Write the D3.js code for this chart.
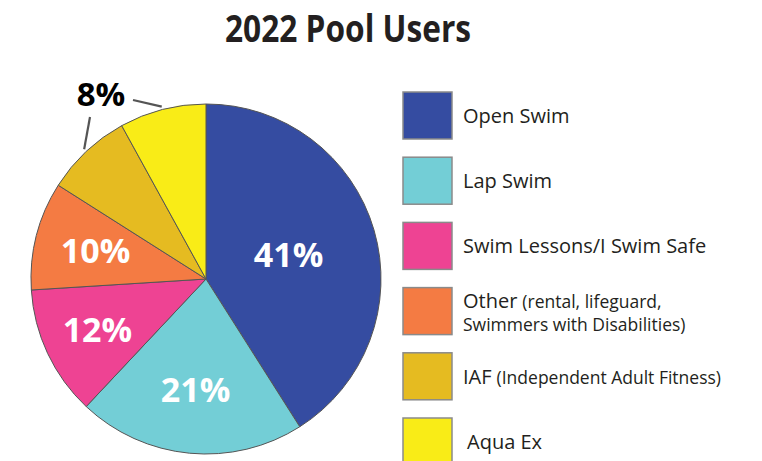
<!DOCTYPE html>
<html>
<head>
<meta charset="utf-8">
<script src="https://cdn.jsdelivr.net/npm/d3@7"></script>
<style>
    body { margin: 0; background: #fff; }
</style>
</head>
<body>
<div id="chart"></div>
<script>
const categories = ["Open Swim", "Lap Swim", "Swim Lessons/I Swim Safe", "Other", "IAF", "Aqua Ex"];
const shares = [41, 21, 12, 10, 8, 8];
const notes = ["", "", "", "(rental, lifeguard,", "(Independent Adult Fitness)", ""];
const noteLine2 = ["", "", "", "Swimmers with Disabilities)", "", ""];
const colors = ["#354ca1", "#73ced6", "#ee4393", "#f47b43", "#e5bb21", "#f9ec17"];

const width = 762;
const height = 461;
const radius = 175;

const svgContainer = d3.select("#chart")
    .append("svg")
    .attr("width", width)
    .attr("height", height)
    .style("font-family", "'Open Sans', sans-serif");

svgContainer.append("text")
    .attr("x", 348)
    .attr("y", 42)
    .attr("text-anchor", "middle")
    .attr("textLength", 246)
    .attr("lengthAdjust", "spacingAndGlyphs")
    .style("font-size", "37px")
    .style("font-weight", "bold")
    .style("fill", "#231f20")
    .text("2022 Pool Users");

const data = categories.map((c, i) => ({ name: c, value: shares[i], color: colors[i] }));

const svg = svgContainer.append("g")
    .attr("transform", "translate(206, 279)");

const pie = d3.pie()
    .value(d => d.value)
    .sort(null);

const arc = d3.arc()
    .innerRadius(0)
    .outerRadius(radius);

const slices = pie(data);

svg.selectAll("path")
    .data(slices)
    .enter()
    .append("path")
    .attr("d", arc)
    .attr("fill", d => d.data.color)
    .attr("stroke", "#555")
    .style("stroke-width", "1px");

// label distance from centre, per slice (the big slice has its label nearer the middle)
const labelRadius = [86, 111, 120, 114];

function pointAt(d, r) {
    const a = (d.startAngle + d.endAngle) / 2;
    return [r * Math.sin(a), -r * Math.cos(a)];
}

svg.selectAll("text.slice-label")
    .data(slices.filter(d => d.data.value >= 10))
    .enter()
    .append("text")
    .attr("class", "slice-label")
    .attr("transform", (d, i) => `translate(${pointAt(d, labelRadius[i])})`)
    .attr("text-anchor", "middle")
    .attr("dy", "0.36em")
    .style("font-size", "34px")
    .style("font-weight", "bold")
    .style("fill", "#fff")
    .text(d => d.data.value + "%");

// shared outside label for the two 8% slices
const small = slices.filter(d => d.data.value < 10);
const outLabel = [-105, -185];
svg.append("text")
    .attr("x", outLabel[0])
    .attr("y", outLabel[1])
    .attr("dy", "0.36em")
    .attr("text-anchor", "middle")
    .style("font-size", "33px")
    .style("font-weight", "bold")
    .style("fill", "#000")
    .text(small[0].data.value + "%");

const leaderStarts = [[-116, -162], [-73, -179]];
svg.selectAll("line.leader")
    .data(small)
    .enter()
    .append("line")
    .attr("class", "leader")
    .attr("x1", (d, i) => leaderStarts[i][0])
    .attr("y1", (d, i) => leaderStarts[i][1])
    .attr("x2", d => pointAt(d, radius + 3)[0])
    .attr("y2", d => pointAt(d, radius + 3)[1])
    .attr("stroke", "#555")
    .attr("stroke-width", 2.2);

// legend
const legendY = d3.scaleLinear().domain([0, 5]).range([92, 418]);

const legendItems = svgContainer.append("g")
    .selectAll("g")
    .data(data)
    .enter()
    .append("g")
    .attr("transform", (d, i) => `translate(403, ${legendY(i)})`);

legendItems.append("rect")
    .attr("width", 49)
    .attr("height", 47)
    .attr("fill", d => d.color)
    .attr("stroke", "#8a8a8a")
    .attr("stroke-width", 1.5);

legendItems.append("text")
    .attr("x", (d, i) => i === 5 ? 64 : 60)
    .attr("y", (d, i) => noteLine2[i] ? 20 : 31)
    .style("font-size", "20px")
    .style("fill", "#231f20")
    .each(function (d, i) {
        const t = d3.select(this);
        t.append("tspan").text(d.name);
        if (notes[i]) {
            t.append("tspan")
                .attr("dx", 5)
                .style("font-size", "17.5px")
                .text(notes[i]);
        }
        if (noteLine2[i]) {
            t.append("tspan")
                .attr("x", 60)
                .attr("dy", 23)
                .style("font-size", "17.5px")
                .text(noteLine2[i]);
        }
    });
</script>
</body>
</html>
